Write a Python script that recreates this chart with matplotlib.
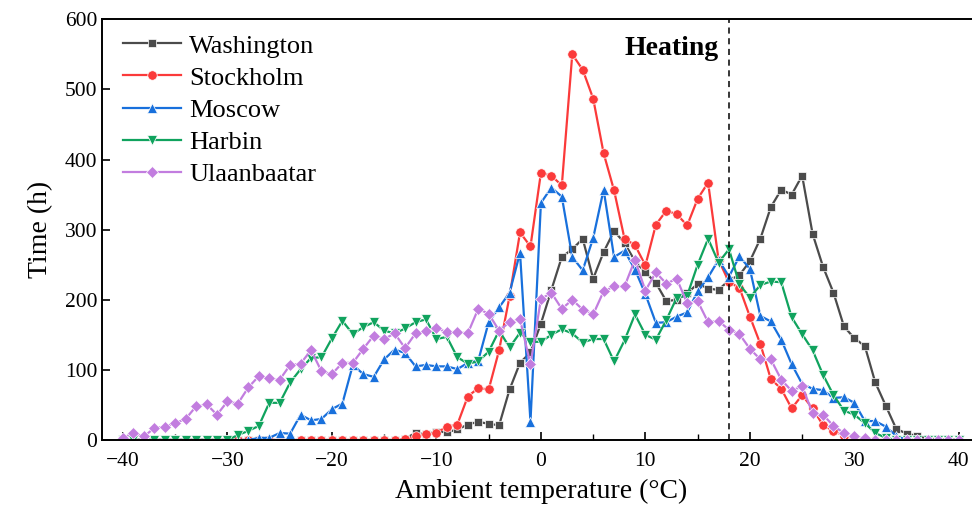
import numpy as np
import matplotlib
matplotlib.use("Agg")
import matplotlib.pyplot as plt
from matplotlib.ticker import MultipleLocator

plt.rcParams['font.family'] = ['Liberation Serif', 'DejaVu Serif']
plt.rcParams['mathtext.fontset'] = 'stix'

temps = np.arange(-40, 41)

washington = [0] * 27 + [2, 10, 8, 12, 11, 15, 22, 26, 23, 21, 72, 110, 125,
              166, 214, 261, 272, 287, 230, 268, 298, 281, 255, 239, 224, 198,
              200, 209, 223, 216, 214, 228, 235, 255, 287, 332, 357, 350, 377,
              294, 247, 210, 162, 145, 134, 82, 49, 16, 9, 6, 2, 1, 0, 0]
stockholm = [0] * 27 + [1, 5, 8, 10, 19, 22, 62, 74, 72, 128, 205, 296, 276,
             381, 377, 363, 550, 528, 487, 409, 356, 287, 278, 249, 307, 327,
             322, 306, 344, 367, 257, 225, 217, 176, 137, 87, 73, 45, 64, 45,
             21, 13, 6, 2] + [0] * 10
moscow = [0] * 13 + [3, 3, 10, 9, 36, 28, 30, 44, 52, 107, 94, 90, 115, 129,
          124, 105, 107, 105, 105, 101, 110, 113, 168, 189, 210, 267, 26,
          338, 360, 347, 261, 242, 288, 357, 261, 270, 243, 208, 167, 168,
          176, 182, 212, 232, 257, 233, 262, 244, 177, 169, 143, 108, 80, 73,
          71, 60, 61, 53, 27, 27, 19, 6] + [0] * 6
harbin = [0] * 11 + [7, 13, 20, 53, 53, 82, 101, 117, 118, 145, 170, 151, 161,
          168, 156, 152, 159, 168, 172, 144, 147, 118, 109, 112, 126, 156,
          132, 153, 140, 140, 150, 158, 152, 139, 144, 144, 112, 142, 179,
          150, 143, 171, 203, 206, 250, 287, 253, 272, 222, 203, 221, 226,
          225, 175, 151, 128, 93, 64, 42, 36, 24, 10, 3] + [0] * 7
ulaanbaatar = [3, 10, 5, 17, 19, 24, 30, 48, 51, 36, 55, 52, 75, 91, 88, 86,
               107, 109, 128, 98, 94, 110, 110, 130, 149, 144, 152, 131, 152,
               155, 159, 154, 154, 152, 187, 180, 156, 168, 172, 108, 201, 210,
               187, 200, 186, 179, 212, 219, 219, 257, 213, 239, 223, 230, 195,
               198, 168, 170, 157, 151, 130, 115, 115, 86, 70, 77, 38, 36, 20,
               10, 5, 3] + [0] * 9

cities = ['Washington', 'Stockholm', 'Moscow', 'Harbin', 'Ulaanbaatar']
series = [washington, stockholm, moscow, harbin, ulaanbaatar]
colors = ['#4b4b4b', '#fb3a3a', '#1870dc', '#10a35e', '#c27ddf']
markers = ['s', 'o', '^', 'v', 'D']
msizes = [5.3, 6.8, 7.3, 7.3, 5.8]

heating_temp = 18

fig = plt.figure(figsize=(9.72, 5.14), dpi=100)
ax = fig.add_axes([0.105, 0.144, 0.903, 0.8185])

for name, vals, c, m, ms in zip(cities, series, colors, markers, msizes):
    assert len(vals) == len(temps), name
    ax.plot(temps, vals, color=c, marker=m, markersize=ms, linewidth=1.6,
            markeredgecolor='white', markeredgewidth=0.5, label=name)

ax.axvline(heating_temp, color='black', linestyle=(0, (4, 3)), linewidth=1.1)
ax.text(heating_temp - 1, 558, 'Heating', ha='right', va='center',
        fontsize=20, fontweight='bold')

ax.set_xlim(-42, 42)
ax.set_ylim(0, 600)
ax.xaxis.set_major_locator(MultipleLocator(10))
ax.xaxis.set_minor_locator(MultipleLocator(5))
ax.yaxis.set_major_locator(MultipleLocator(100))
ax.tick_params(axis='both', which='major', direction='in', length=6,
               width=1.2, labelsize=15.5)
ax.tick_params(axis='x', which='major', pad=9)
ax.tick_params(axis='x', which='minor', direction='in', length=4, width=1.0)
for s in ax.spines.values():
    s.set_linewidth(1.4)

ax.set_xlabel('Ambient temperature (°C)', fontsize=20, labelpad=5)
ax.set_ylabel('Time (h)', fontsize=20, labelpad=8)

ax.legend(loc='upper left', frameon=False, fontsize=19, handlelength=2.2,
          handletextpad=0.3, labelspacing=0.33, borderaxespad=0.0,
          bbox_to_anchor=(0.012, 0.99))

fig.savefig('out.png', dpi=100)
